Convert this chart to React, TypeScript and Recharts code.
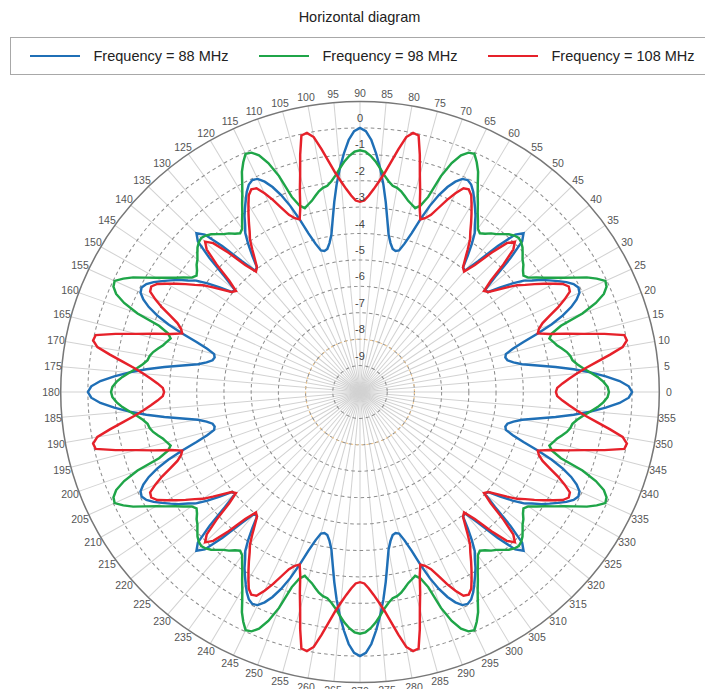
import { RadarChart, Radar, PolarGrid, PolarAngleAxis, PolarRadiusAxis, Legend } from 'recharts';

// pattern level in dB, every 1.25 degrees from 0 to 358.75 (one line per quadrant)
const f88 = [
  0, -0.12, -0.45, -0.95, -1.5, -2.1, -2.75, -3.4, -3.95, -4.25, -4.45, -4.5, -4.45, -4.15, -3.7, -3.1, -2.5, -2.0, -1.6, -1.3, -1.1, -1.05, -1.15, -1.35, -1.6, -1.85, -2.1, -2.4, -2.65, -3.05, -3.5, -3.95, -4.0, -3.4, -2.5, -1.75, -1.5, -1.75, -2.5, -3.4, -4.0, -3.95, -3.5, -3.05, -2.65, -2.4, -2.1, -1.85, -1.6, -1.35, -1.15, -1.05, -1.1, -1.3, -1.6, -2.0, -2.5, -3.1, -3.7, -4.15, -4.45, -4.5, -4.45, -4.25, -3.95, -3.4, -2.75, -2.1, -1.5, -0.95, -0.45, -0.12,
  0, -0.12, -0.45, -0.95, -1.5, -2.1, -2.75, -3.4, -3.95, -4.25, -4.45, -4.5, -4.45, -4.15, -3.7, -3.1, -2.5, -2.0, -1.6, -1.3, -1.1, -1.05, -1.15, -1.35, -1.6, -1.85, -2.1, -2.4, -2.65, -3.05, -3.5, -3.95, -4.0, -3.4, -2.5, -1.75, -1.5, -1.75, -2.5, -3.4, -4.0, -3.95, -3.5, -3.05, -2.65, -2.4, -2.1, -1.85, -1.6, -1.35, -1.15, -1.05, -1.1, -1.3, -1.6, -2.0, -2.5, -3.1, -3.7, -4.15, -4.45, -4.5, -4.45, -4.25, -3.95, -3.4, -2.75, -2.1, -1.5, -0.95, -0.45, -0.12,
  0, -0.12, -0.45, -0.95, -1.5, -2.1, -2.75, -3.4, -3.95, -4.25, -4.45, -4.5, -4.45, -4.15, -3.7, -3.1, -2.5, -2.0, -1.6, -1.3, -1.1, -1.05, -1.15, -1.35, -1.6, -1.85, -2.1, -2.4, -2.65, -3.05, -3.5, -3.95, -4.0, -3.4, -2.5, -1.75, -1.5, -1.75, -2.5, -3.4, -4.0, -3.95, -3.5, -3.05, -2.65, -2.4, -2.1, -1.85, -1.6, -1.35, -1.15, -1.05, -1.1, -1.3, -1.6, -2.0, -2.5, -3.1, -3.7, -4.15, -4.45, -4.5, -4.45, -4.25, -3.95, -3.4, -2.75, -2.1, -1.5, -0.95, -0.45, -0.12,
  0, -0.12, -0.45, -0.95, -1.5, -2.1, -2.75, -3.4, -3.95, -4.25, -4.45, -4.5, -4.45, -4.15, -3.7, -3.1, -2.5, -2.0, -1.6, -1.3, -1.1, -1.05, -1.15, -1.35, -1.6, -1.85, -2.1, -2.4, -2.65, -3.05, -3.5, -3.95, -4.0, -3.4, -2.5, -1.75, -1.5, -1.75, -2.5, -3.4, -4.0, -3.95, -3.5, -3.05, -2.65, -2.4, -2.1, -1.85, -1.6, -1.35, -1.15, -1.05, -1.1, -1.3, -1.6, -2.0, -2.5, -3.1, -3.7, -4.15, -4.45, -4.5, -4.45, -4.25, -3.95, -3.4, -2.75, -2.1, -1.5, -0.95, -0.45, -0.12,
];

const f98 = [
  -0.85, -0.9, -1.05, -1.25, -1.5, -1.75, -1.95, -2.1, -2.15, -2.25, -2.4, -2.55, -2.65, -2.75, -2.6, -2.2, -1.3, -0.7, -0.3, -0.1, -0.05, -0.3, -0.6, -1.0, -1.35, -1.65, -1.95, -2.2, -2.45, -2.55, -2.45, -2.3, -2.2, -2.05, -1.9, -1.8, -1.75, -1.8, -1.9, -2.05, -2.2, -2.3, -2.45, -2.55, -2.45, -2.2, -1.95, -1.65, -1.35, -1.0, -0.6, -0.3, -0.05, -0.1, -0.3, -0.7, -1.3, -2.2, -2.6, -2.75, -2.65, -2.55, -2.4, -2.25, -2.15, -2.1, -1.95, -1.75, -1.5, -1.25, -1.05, -0.9,
  -0.85, -0.9, -1.05, -1.25, -1.5, -1.75, -1.95, -2.1, -2.15, -2.25, -2.4, -2.55, -2.65, -2.75, -2.6, -2.2, -1.3, -0.7, -0.3, -0.1, -0.05, -0.3, -0.6, -1.0, -1.35, -1.65, -1.95, -2.2, -2.45, -2.55, -2.45, -2.3, -2.2, -2.05, -1.9, -1.8, -1.75, -1.8, -1.9, -2.05, -2.2, -2.3, -2.45, -2.55, -2.45, -2.2, -1.95, -1.65, -1.35, -1.0, -0.6, -0.3, -0.05, -0.1, -0.3, -0.7, -1.3, -2.2, -2.6, -2.75, -2.65, -2.55, -2.4, -2.25, -2.15, -2.1, -1.95, -1.75, -1.5, -1.25, -1.05, -0.9,
  -0.85, -0.9, -1.05, -1.25, -1.5, -1.75, -1.95, -2.1, -2.15, -2.25, -2.4, -2.55, -2.65, -2.75, -2.6, -2.2, -1.3, -0.7, -0.3, -0.1, -0.05, -0.3, -0.6, -1.0, -1.35, -1.65, -1.95, -2.2, -2.45, -2.55, -2.45, -2.3, -2.2, -2.05, -1.9, -1.8, -1.75, -1.8, -1.9, -2.05, -2.2, -2.3, -2.45, -2.55, -2.45, -2.2, -1.95, -1.65, -1.35, -1.0, -0.6, -0.3, -0.05, -0.1, -0.3, -0.7, -1.3, -2.2, -2.6, -2.75, -2.65, -2.55, -2.4, -2.25, -2.15, -2.1, -1.95, -1.75, -1.5, -1.25, -1.05, -0.9,
  -0.85, -0.9, -1.05, -1.25, -1.5, -1.75, -1.95, -2.1, -2.15, -2.25, -2.4, -2.55, -2.65, -2.75, -2.6, -2.2, -1.3, -0.7, -0.3, -0.1, -0.05, -0.3, -0.6, -1.0, -1.35, -1.65, -1.95, -2.2, -2.45, -2.55, -2.45, -2.3, -2.2, -2.05, -1.9, -1.8, -1.75, -1.8, -1.9, -2.05, -2.2, -2.3, -2.45, -2.55, -2.45, -2.2, -1.95, -1.65, -1.35, -1.0, -0.6, -0.3, -0.05, -0.1, -0.3, -0.7, -1.3, -2.2, -2.6, -2.75, -2.65, -2.55, -2.4, -2.25, -2.15, -2.1, -1.95, -1.75, -1.5, -1.25, -1.05, -0.9,
];

const f108 = [
  -2.8, -2.75, -2.55, -2.3, -2.0, -1.65, -1.2, -0.7, -0.2, 0, -0.05, -0.75, -1.5, -2.1, -2.7, -3.1, -3.0, -2.8, -2.45, -2.05, -1.7, -1.4, -1.35, -1.5, -1.8, -2.1, -2.4, -2.7, -2.95, -3.3, -3.65, -3.95, -4.05, -3.6, -2.85, -2.2, -1.95, -2.2, -2.85, -3.6, -4.05, -3.95, -3.65, -3.3, -2.95, -2.7, -2.4, -2.1, -1.8, -1.5, -1.35, -1.4, -1.7, -2.05, -2.45, -2.8, -3.0, -3.1, -2.7, -2.1, -1.5, -0.75, -0.05, 0, -0.2, -0.7, -1.2, -1.65, -2.0, -2.3, -2.55, -2.75,
  -2.8, -2.75, -2.55, -2.3, -2.0, -1.65, -1.2, -0.7, -0.2, 0, -0.05, -0.75, -1.5, -2.1, -2.7, -3.1, -3.0, -2.8, -2.45, -2.05, -1.7, -1.4, -1.35, -1.5, -1.8, -2.1, -2.4, -2.7, -2.95, -3.3, -3.65, -3.95, -4.05, -3.6, -2.85, -2.2, -1.95, -2.2, -2.85, -3.6, -4.05, -3.95, -3.65, -3.3, -2.95, -2.7, -2.4, -2.1, -1.8, -1.5, -1.35, -1.4, -1.7, -2.05, -2.45, -2.8, -3.0, -3.1, -2.7, -2.1, -1.5, -0.75, -0.05, 0, -0.2, -0.7, -1.2, -1.65, -2.0, -2.3, -2.55, -2.75,
  -2.8, -2.75, -2.55, -2.3, -2.0, -1.65, -1.2, -0.7, -0.2, 0, -0.05, -0.75, -1.5, -2.1, -2.7, -3.1, -3.0, -2.8, -2.45, -2.05, -1.7, -1.4, -1.35, -1.5, -1.8, -2.1, -2.4, -2.7, -2.95, -3.3, -3.65, -3.95, -4.05, -3.6, -2.85, -2.2, -1.95, -2.2, -2.85, -3.6, -4.05, -3.95, -3.65, -3.3, -2.95, -2.7, -2.4, -2.1, -1.8, -1.5, -1.35, -1.4, -1.7, -2.05, -2.45, -2.8, -3.0, -3.1, -2.7, -2.1, -1.5, -0.75, -0.05, 0, -0.2, -0.7, -1.2, -1.65, -2.0, -2.3, -2.55, -2.75,
  -2.8, -2.75, -2.55, -2.3, -2.0, -1.65, -1.2, -0.7, -0.2, 0, -0.05, -0.75, -1.5, -2.1, -2.7, -3.1, -3.0, -2.8, -2.45, -2.05, -1.7, -1.4, -1.35, -1.5, -1.8, -2.1, -2.4, -2.7, -2.95, -3.3, -3.65, -3.95, -4.05, -3.6, -2.85, -2.2, -1.95, -2.2, -2.85, -3.6, -4.05, -3.95, -3.65, -3.3, -2.95, -2.7, -2.4, -2.1, -1.8, -1.5, -1.35, -1.4, -1.7, -2.05, -2.45, -2.8, -3.0, -3.1, -2.7, -2.1, -1.5, -0.75, -0.05, 0, -0.2, -0.7, -1.2, -1.65, -2.0, -2.3, -2.55, -2.75,
];

const STEP = 1.25;
const angleTicks = Array.from({ length: 72 }, (_, i) => i * 5);
const levelTicks = [0, -1, -2, -3, -4, -5, -6, -7, -8, -9];

const series = [
  { key: 'f88', name: 'Frequency = 88 MHz', color: '#1f6fb6' },
  { key: 'f98', name: 'Frequency = 98 MHz', color: '#1fa548' },
  { key: 'f108', name: 'Frequency = 108 MHz', color: '#e6212a' },
];

const data = f88.map((v, i) => ({ angle: i * STEP, f88: v, f98: f98[i], f108: f108[i] }));

const CX = 360;
const CY = 392;
const R = 292;
const SX = 1.025;
const SY = 0.995;
const FONT = '"Liberation Sans", Arial, sans-serif';

// the plot area is drawn a little wider than tall; text stays unscaled
const stretchCss = `.polar-diagram .recharts-polar-grid, .polar-diagram .recharts-radar, .polar-diagram .recharts-polar-angle-axis-line {
  transform-origin: ${CX}px ${CY}px; transform: scale(${SX}, ${SY});
}`;

const AngleTick = ({ x, y, payload }: any) => (
  <text
    x={Math.round(CX + (x - CX) * SX)}
    y={Math.round(CY + (y - CY) * SY)}
    textAnchor="middle"
    dominantBaseline="central"
    fontSize={10.5}
    fill="#555"
    fontFamily={FONT}
  >
    {payload.value}
  </text>
);

const LevelTick = ({ x, y, payload }: any) => (
  <text
    x={Math.round(x)}
    y={Math.round(CY + (y - CY) * SY - 10)}
    textAnchor="middle"
    dominantBaseline="central"
    fontSize={11}
    fill="#444"
    fontFamily={FONT}
  >
    {payload.value}
  </text>
);

const renderLegend = () => (
  <div
    style={{
      boxSizing: 'border-box',
      width: 705,
      height: 38,
      border: '1.5px solid #a8a8a8',
      display: 'flex',
      alignItems: 'center',
      paddingLeft: 18.5,
      fontFamily: FONT,
      fontSize: 14.5,
      color: '#222',
    }}
  >
    {series.map((s) => (
      <div key={s.key} style={{ display: 'flex', alignItems: 'center', width: 229, flex: 'none' }}>
        <span style={{ display: 'inline-block', width: 50, height: 2.5, background: s.color, marginRight: 14 }} />
        {s.name}
      </div>
    ))}
  </div>
);

// radius in px of a dB level on the radial scale (-10 at centre, +1 at the rim)
const levelRadius = (db: number) => ((db + 10) / 11) * R;

export default function App() {
  return (
    <div
      className="polar-diagram"
      style={{ position: 'absolute', left: 0, top: 0, width: 705, height: 689, background: '#fff', overflow: 'hidden' }}
    >
      <style>{stretchCss}</style>
      <div style={{ position: 'absolute', top: 9, left: 0, width: 719, textAlign: 'center', fontFamily: FONT, fontSize: 14.5, color: '#222' }}>
        Horizontal diagram
      </div>
      <RadarChart width={705} height={689} data={data} cx={CX} cy={CY} outerRadius={R} startAngle={0} endAngle={360}>
        <PolarGrid gridType="circle" radialLines polarRadius={[]} stroke="#d2d2d2" />
        <PolarGrid gridType="circle" radialLines={false} stroke="#8c8c8c" strokeDasharray="3.5 3" />
        <PolarGrid gridType="circle" radialLines={false} polarRadius={[levelRadius(-8)]} stroke="#f6c98a" strokeDasharray="2 3" />
        <PolarAngleAxis
          dataKey="angle"
          type="number"
          domain={[0, 360]}
          ticks={angleTicks}
          tickLine={false}
          tickSize={9}
          axisLineType="circle"
          axisLine={{ stroke: '#777', strokeWidth: 1.5 }}
          tick={AngleTick}
        />
        <PolarRadiusAxis angle={90} type="number" domain={[-10, 1]} ticks={levelTicks} axisLine={false} tickLine={false} tick={LevelTick} />
        {series.map((s) => (
          <Radar
            key={s.key}
            name={s.name}
            dataKey={s.key}
            stroke={s.color}
            strokeWidth={2.4}
            fill="none"
            dot={false}
            isAnimationActive={false}
          />
        ))}
        <Legend content={renderLegend} wrapperStyle={{ position: 'absolute', top: 37, left: 10, width: 705, height: 38 }} />
      </RadarChart>
    </div>
  );
}
